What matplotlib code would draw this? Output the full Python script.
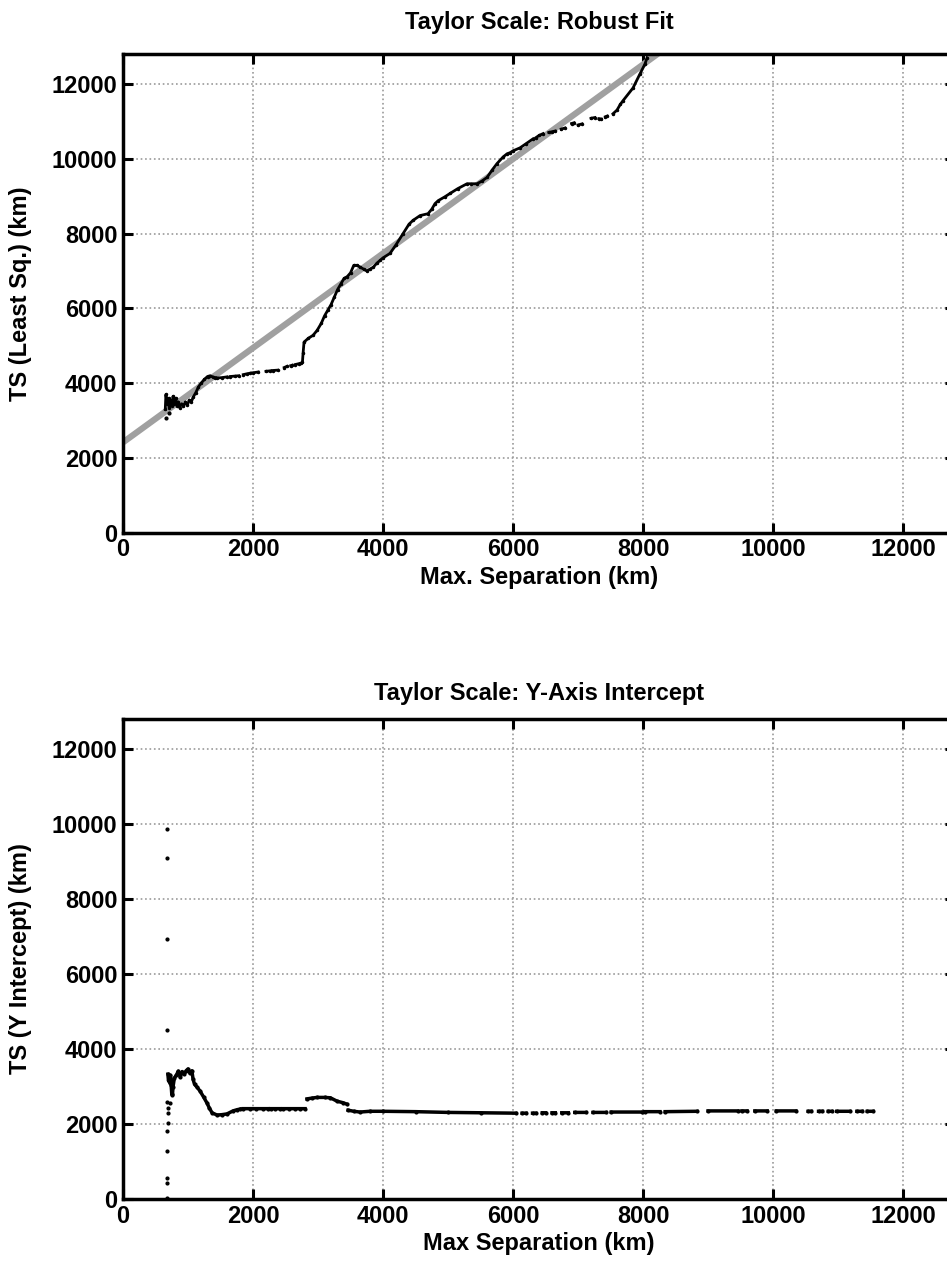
import numpy as np
import matplotlib
matplotlib.use("Agg")
import matplotlib.pyplot as plt

plt.rcParams['font.family'] = ['Liberation Sans', 'DejaVu Sans']
plt.rcParams['font.weight'] = 'bold'

nan = np.nan

# ---- Top panel: least-squares Taylor scale vs max separation
ts_ls_x = [650, 660, 680, 700, 710, 730, 750, 770, 790, 810, 830, 850, 870, 900, 930, 960,
           990, 1020, 1050, 1080, 1120, 1160, 1200, 1250, 1300, 1340, 1380, 1420, nan,
           1450, 1520, 1600, nan, 1650, 1720, 1780, nan, 1850, 1900, 1960, nan, 2000, 2080, nan,
           2200, 2260, nan, 2300, 2380, nan, 2480, 2520, nan, 2580, 2600, nan, 2650, 2700, 2740,
           2760, 2770, 2785, 2850, 2923, 2985, 3050, 3100, 3150, 3200, 3250, 3300, 3350, 3400,
           3450, 3500, 3550, 3600, 3650, 3700, 3750, 3800, 3850, 3900, 3954, 4000, 4108, 4200,
           4308, 4400, 4460, 4570, 4692, 4750, 4800, 4850, 4950, 5030, 5150, 5292, 5350, 5446,
           5520, 5600, 5680, 5754, 5850, 5908, 5954, 6000, 6108, 6200, 6308, nan,
           6350, 6400, 6462, nan, 6550, 6600, 6650, nan, 6740, 6800, nan, 6900, 6940, nan,
           7000, 7062, nan, 7200, 7260, nan, 7320, 7360, nan, 7420, 7450, nan,
           7538, 7600, 7650, 7692, 7846, 7954, 8030, 8062]
ts_ls_y = [3300, 3700, 3450, 3600, 3350, 3550, 3400, 3650, 3450, 3600, 3400, 3500, 3350, 3450, 3380, 3500,
           3420, 3550, 3500, 3630, 3750, 3900, 4000, 4100, 4180, 4200, 4170, 4150, nan,
           4140, 4150, 4170, nan, 4180, 4190, 4200, nan, 4230, 4250, 4270, nan, 4280, 4300, nan,
           4320, 4330, nan, 4340, 4350, nan, 4420, 4450, nan, 4470, 4480, nan, 4500, 4520, 4540,
           4560, 4800, 5100, 5200, 5280, 5410, 5600, 5800, 5950, 6100, 6300, 6500, 6650, 6800,
           6850, 6950, 7150, 7150, 7100, 7050, 7000, 7050, 7100, 7200, 7280, 7350, 7470, 7700,
           8000, 8250, 8350, 8480, 8530, 8650, 8800, 8880, 8980, 9070, 9200, 9330, 9330, 9330,
           9400, 9500, 9700, 9870, 10050, 10130, 10160, 10210, 10290, 10400, 10530, nan,
           10560, 10620, 10670, nan, 10700, 10720, 10740, nan, 10790, 10820, nan, 10940, 10960, nan,
           10900, 10930, nan, 11080, 11100, nan, 11070, 11060, nan, 11120, 11140, nan,
           11200, 11300, 11450, 11550, 11890, 12270, 12530, 12700]
ts_ls_outlier_x = [660, 700]
ts_ls_outlier_y = [3070, 3200]

# robust fit line
fit_intercept = 2420
fit_slope = 1.262

# ---- Bottom panel: y-axis intercept Taylor scale
ts_yi_pts_x = [677, 677, 677, 677, 677, 680, 680, 682, 682, 685, 690, 695, 677, 720]
ts_yi_pts_y = [9870, 9090, 6930, 4510, 30, 430, 570, 1280, 1810, 2030, 2290, 2430, 2590, 2560]

ts_yi_x = [690, 700, 710, 720, 730, 740, 750, 760, 770, 790, 820, 850, 880, 910, 940, 970,
           1000, 1030, 1060, 1077, 1100, 1140, 1185, 1240, 1292, 1330, 1370, 1446, 1520, 1600,
           1692, 1750, 1800, nan, 1850, 1950, 2050, 2150, 2230, nan, 2270, 2340, 2410, nan,
           2460, 2550, 2650, 2730, 2800, nan,
           2830, 2900, 2985, 3100, 3190, 3292, 3380, 3446, nan, 3462, 3550, 3646, 3800, 4000,
           4500, 5000, 5500, 6040, nan, 6140, 6200, nan, 6300, 6350, nan, 6450, 6500, nan,
           6600, 6650, nan, 6750, 6850, nan, 6950, 7120, nan, 7230, 7430, nan, 7510, 7990, nan,
           8030, 8260, nan, 8340, 8830, nan, 9000, 9460, nan, 9520, 9600, nan, 9720, 9910, nan,
           10050, 10350, nan, 10540, 10590, nan, 10700, 10760, nan, 10850, 10900, nan,
           10980, 11180, nan, 11290, 11370, nan, 11450, 11540]
ts_yi_y = [3330, 3150, 3250, 3100, 3300, 3050, 2800, 2770, 3000, 3230, 3300, 3410, 3250, 3400, 3330, 3420,
           3470, 3350, 3420, 3200, 3060, 2980, 2880, 2720, 2560, 2420, 2300, 2240, 2250, 2270,
           2350, 2380, 2400, nan, 2410, 2410, 2410, 2410, 2410, nan, 2410, 2410, 2410, nan,
           2410, 2410, 2410, 2410, 2410, nan,
           2670, 2690, 2710, 2710, 2700, 2610, 2570, 2530, nan, 2370, 2340, 2320, 2340, 2340,
           2330, 2310, 2300, 2290, nan, 2290, 2290, nan, 2290, 2290, nan, 2300, 2300, nan,
           2300, 2300, nan, 2300, 2300, nan, 2310, 2310, nan, 2310, 2310, nan, 2320, 2320, nan,
           2330, 2330, nan, 2330, 2340, nan, 2350, 2350, nan, 2350, 2350, nan, 2350, 2350, nan,
           2350, 2350, nan, 2340, 2340, nan, 2340, 2340, nan, 2340, 2340, nan,
           2340, 2340, nan, 2340, 2340, nan, 2340, 2340]

ticks = [0, 2000, 4000, 6000, 8000, 10000, 12000]
lim = 12800

fig = plt.figure(figsize=(9.47, 12.62), dpi=100)
ax1 = fig.add_axes([0.1299, 0.5777, 0.8786, 0.3796])
ax2 = fig.add_axes([0.1299, 0.0499, 0.8786, 0.3803])


def style(ax):
    ax.set_xlim(0, lim)
    ax.set_ylim(0, lim)
    ax.set_xticks(ticks)
    ax.set_yticks(ticks)
    ax.grid(True, linestyle=':', color='#9a9a9a', linewidth=1.2)
    ax.set_axisbelow(True)
    ax.tick_params(direction='in', length=7, width=2.2, top=True, right=True,
                   labelsize=17, pad=4)
    for lbl in ax.get_xticklabels() + ax.get_yticklabels():
        lbl.set_fontweight('bold')
    for s in ax.spines.values():
        s.set_linewidth(2.5)


# Robust fit
xf = np.array([0, lim])
ax1.plot(xf, fit_intercept + fit_slope*xf, color='#a0a0a0', lw=4.5, zorder=2)
ax1.plot(ts_ls_x, ts_ls_y, color='k', lw=2.0, marker='.', ms=3, zorder=3)
ax1.plot(ts_ls_outlier_x, ts_ls_outlier_y, 'k.', ms=4, zorder=3)
style(ax1)
ax1.set_title("Taylor Scale: Robust Fit", fontsize=17, fontweight='bold', pad=18)
ax1.set_xlabel("Max. Separation (km)", fontsize=17, fontweight='bold', labelpad=3)
ax1.set_ylabel("TS (Least Sq.) (km)", fontsize=17, fontweight='bold', labelpad=14)

# Y-axis intercept
ax2.plot(ts_yi_pts_x, ts_yi_pts_y, 'k.', ms=4, zorder=3)
ax2.plot(ts_yi_x, ts_yi_y, color='k', lw=2.5, marker='.', ms=4, zorder=3)
style(ax2)
ax2.set_title("Taylor Scale: Y-Axis Intercept", fontsize=17, fontweight='bold', pad=14)
ax2.set_xlabel("Max Separation (km)", fontsize=17, fontweight='bold', labelpad=3)
ax2.set_ylabel("TS (Y Intercept) (km)", fontsize=17, fontweight='bold', labelpad=14)

fig.savefig("out.png", dpi=100)
